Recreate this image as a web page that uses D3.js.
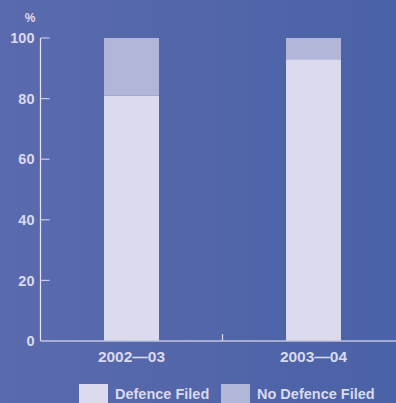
<!DOCTYPE html>
<html>
<head>
<meta charset="utf-8">
<script src="https://cdn.jsdelivr.net/npm/d3@7"></script>
<style>
  html, body { margin: 0; padding: 0; }
  svg { display: block; }
  text { font-family: "Liberation Sans", Arial, sans-serif; font-weight: bold; fill: #d9daee; }
</style>
</head>
<body>
<svg id="chart" width="396" height="403"></svg>
<script>
// Share of cases by year, stacked to 100%
const years = ["2002\u201403", "2003\u201404"];
const defenceFiled = [81, 93];
const noDefenceFiled = [19, 7];
const seriesNames = ["Defence Filed", "No Defence Filed"];
const yTicks = [0, 20, 40, 60, 80, 100];

const colors = { "Defence Filed": "#dbdbed", "No Defence Filed": "#b2b6d8" };

const svg = d3.select("#chart");
const W = 396, H = 403;

// Background: soft horizontal gradient
const defs = svg.append("defs");
const grad = defs.append("linearGradient").attr("id", "bg").attr("x1", 0).attr("x2", 1).attr("y1", 0).attr("y2", 0);
grad.append("stop").attr("offset", "0%").attr("stop-color", "#5b6aae");
grad.append("stop").attr("offset", "100%").attr("stop-color", "#4a62a6");
svg.append("rect").attr("width", W).attr("height", H).attr("fill", "url(#bg)");

const x0 = 40.5, yBottom = 341, yTop = 38;

const x = d3.scaleBand().domain(years).range([x0, x0 + 364]).paddingInner(0.698).paddingOuter(0.349);
const y = d3.scaleLinear().domain([0, 100]).range([yBottom, yTop]);

const rows = years.map((yr, i) => ({ year: yr, "Defence Filed": defenceFiled[i], "No Defence Filed": noDefenceFiled[i] }));
const stacked = d3.stack().keys(seriesNames)(rows);

// Bars
svg.append("g").selectAll("g").data(stacked).join("g")
  .attr("fill", d => colors[d.key])
  .selectAll("rect").data(d => d).join("rect")
  .attr("x", d => x(d.data.year))
  .attr("width", x.bandwidth())
  .attr("y", d => y(d[1]))
  .attr("height", d => y(d[0]) - y(d[1]));

// Y axis
const yAxis = svg.append("g").attr("transform", `translate(${x0},0)`);
yAxis.append("line").attr("x1", 0).attr("x2", 0).attr("y1", yTop).attr("y2", yBottom)
  .attr("stroke", "#e6e6f3").attr("stroke-width", 1.2);
yAxis.selectAll("line.tick").data(yTicks.filter(t => t > 0)).join("line").attr("class", "tick")
  .attr("x1", 0).attr("x2", 9).attr("y1", d => y(d)).attr("y2", d => y(d))
  .attr("stroke", "#c9cbe6").attr("stroke-width", 1.2);
yAxis.selectAll("text").data(yTicks).join("text")
  .attr("x", -6).attr("y", d => y(d)).attr("dy", "0.36em")
  .attr("text-anchor", "end").attr("font-size", 14.5).text(d => d);
svg.append("text").attr("x", 30).attr("y", 22).attr("text-anchor", "middle").attr("font-size", 12).text("%");

// X axis
svg.append("line").attr("x1", x0).attr("x2", W).attr("y1", yBottom).attr("y2", yBottom)
  .attr("stroke", "#c2c5e2").attr("stroke-width", 1.5);
svg.append("line")
  .attr("x1", x0 + x.step()).attr("x2", x0 + x.step())
  .attr("y1", yBottom - 7).attr("y2", yBottom)
  .attr("stroke", "#d6d7ec").attr("stroke-width", 1.2);
svg.append("g").selectAll("text").data(years).join("text")
  .attr("x", d => x(d) + x.bandwidth() / 2).attr("y", 362)
  .attr("text-anchor", "middle").attr("font-size", 15.5).text(d => d);

// Legend
const legendX = [79, 221];
const lg = svg.append("g").selectAll("g").data(seriesNames).join("g")
  .attr("transform", (d, i) => `translate(${legendX[i]},384)`);
lg.append("rect").attr("width", 29).attr("height", 22).attr("fill", d => colors[d]);
lg.append("text").attr("x", 36).attr("y", 15).attr("font-size", 14.5).text(d => d);
</script>
</body>
</html>
